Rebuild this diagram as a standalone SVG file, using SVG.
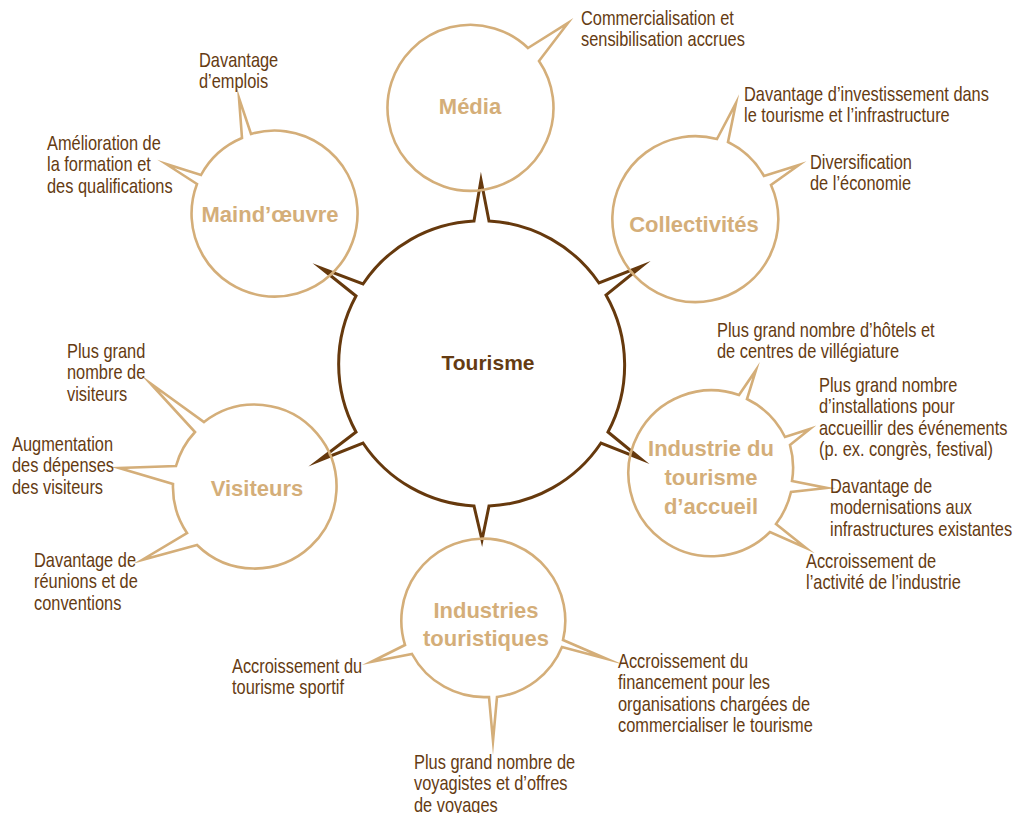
<svg xmlns="http://www.w3.org/2000/svg" width="1013" height="813" viewBox="0 0 1013 813">
<style>
.bub{fill:none;stroke:#d4ae79;stroke-width:2.6;stroke-linejoin:miter;stroke-miterlimit:20}
.core{fill:none;stroke:#66390d;stroke-width:3;stroke-linejoin:miter;stroke-miterlimit:20}
.lbl{font-family:"Liberation Sans",Arial,sans-serif;font-size:20px;fill:#653b12}
.ttl{font-family:"Liberation Sans",Arial,sans-serif;font-size:22px;font-weight:bold;fill:#d4ae79;text-anchor:middle}
.main{font-family:"Liberation Sans",Arial,sans-serif;font-size:21px;font-weight:bold;fill:#653b12;text-anchor:middle}
</style>
<rect width="1013" height="813" fill="#ffffff"/>
<g id="connectors"/>
<g id="tourisme">
<path class="core" d="M474 221 L481 180 L489 221 A142 142 0 0 1 599 283 L642 266 L606 295 A142 142 0 0 1 608 432 L641 459 L601 443 A142 142 0 0 1 489 506 L482 540 L474 506 A142 142 0 0 1 363 443 L318 461 L356 432 A142 142 0 0 1 356 296 L321 268 L363 284 A142 142 0 0 1 474 221 Z"/>
<text class="main" x="488" y="370">Tourisme</text>
</g>
<g id="media">
<path class="bub" d="M528 48 L568 23 L539 61 A83 83 0 1 1 528 48 Z"/>
<text class="ttl" x="470" y="114">Média</text>
<text class="lbl" transform="translate(581,25) scale(0.82,1)"><tspan x="0" y="0">Commercialisation et</tspan><tspan x="0" y="21.5">sensibilisation accrues</tspan></text>
</g>
<g id="maindoeuvre">
<path class="bub" d="M197 184 L166 164 L201 175 A83 83 0 0 1 242 138 L239 98 L251 134 A83 83 0 1 1 197 184 Z"/>
<text class="ttl" x="270" y="222">Maind’œuvre</text>
<text class="lbl" transform="translate(199,67) scale(0.82,1)"><tspan x="0" y="0">Davantage</tspan><tspan x="0" y="21.5">d’emplois</tspan></text>
<text class="lbl" transform="translate(47,150) scale(0.82,1)"><tspan x="0" y="0">Amélioration de</tspan><tspan x="0" y="21.5">la formation et</tspan><tspan x="0" y="43">des qualifications</tspan></text>
</g>
<g id="collectivites">
<path class="bub" d="M717 139 L736 103 L728 142 A83 83 0 0 1 764 176 L799 165 L771 185 A83 83 0 1 1 717 139 Z"/>
<text class="ttl" x="694" y="232">Collectivités</text>
<text class="lbl" transform="translate(744,101) scale(0.82,1)"><tspan x="0" y="0">Davantage d’investissement dans</tspan><tspan x="0" y="21.5">le tourisme et l’infrastructure</tspan></text>
<text class="lbl" transform="translate(810,169) scale(0.82,1)"><tspan x="0" y="0">Diversification</tspan><tspan x="0" y="21.5">de l’économie</tspan></text>
</g>
<g id="industrie-accueil">
<path class="bub" d="M739 395 L756 370 L747 399 A83 83 0 0 1 785 437 L810 429 L790 445 A83 83 0 0 1 792 481 L827 488 L791 492 A83 83 0 0 1 776 524 L806 548 L770 532 A83 83 0 1 1 739 395 Z"/>
<text class="ttl" x="711" y="456">Industrie du</text>
<text class="ttl" x="711" y="485">tourisme</text>
<text class="ttl" x="711" y="514">d’accueil</text>
<text class="lbl" transform="translate(717,337) scale(0.82,1)"><tspan x="0" y="0">Plus grand nombre d’hôtels et</tspan><tspan x="0" y="21.5">de centres de villégiature</tspan></text>
<text class="lbl" transform="translate(819,392) scale(0.82,1)"><tspan x="0" y="0">Plus grand nombre</tspan><tspan x="0" y="21.5">d’installations pour</tspan><tspan x="0" y="43">accueillir des événements</tspan><tspan x="0" y="64.5">(p. ex. congrès, festival)</tspan></text>
<text class="lbl" transform="translate(830,493) scale(0.82,1)"><tspan x="0" y="0">Davantage de</tspan><tspan x="0" y="21.5">modernisations aux</tspan><tspan x="0" y="43">infrastructures existantes</tspan></text>
<text class="lbl" transform="translate(806,568) scale(0.82,1)"><tspan x="0" y="0">Accroissement de</tspan><tspan x="0" y="21.5">l’activité de l’industrie</tspan></text>
</g>
<g id="visiteurs">
<path class="bub" d="M197 545 L142 560 L187 533 A82 82 0 0 1 173 484 L119 468 L176 466 A82 82 0 0 1 195 432 L150 383 L204 422 A82 82 0 1 1 197 545 Z"/>
<text class="ttl" x="257" y="496">Visiteurs</text>
<text class="lbl" transform="translate(67,358) scale(0.82,1)"><tspan x="0" y="0">Plus grand</tspan><tspan x="0" y="21.5">nombre de</tspan><tspan x="0" y="43">visiteurs</tspan></text>
<text class="lbl" transform="translate(12,451) scale(0.82,1)"><tspan x="0" y="0">Augmentation</tspan><tspan x="0" y="21.5">des dépenses</tspan><tspan x="0" y="43">des visiteurs</tspan></text>
<text class="lbl" transform="translate(34,567) scale(0.82,1)"><tspan x="0" y="0">Davantage de</tspan><tspan x="0" y="21.5">réunions et de</tspan><tspan x="0" y="43">conventions</tspan></text>
</g>
<g id="industries-touristiques">
<path class="bub" d="M563 640 L607 659 L562 647 A82 82 0 0 1 497 697 L493 741 L489 697 A82 82 0 0 1 412 654 L371 662 L405 645 A82 82 0 1 1 563 640 Z"/>
<text class="ttl" x="486" y="618">Industries</text>
<text class="ttl" x="486" y="646">touristiques</text>
<text class="lbl" transform="translate(232,673) scale(0.82,1)"><tspan x="0" y="0">Accroissement du</tspan><tspan x="0" y="21.5">tourisme sportif</tspan></text>
<text class="lbl" transform="translate(618,668) scale(0.82,1)"><tspan x="0" y="0">Accroissement du</tspan><tspan x="0" y="21.5">financement pour les</tspan><tspan x="0" y="43">organisations chargées de</tspan><tspan x="0" y="64.5">commercialiser le tourisme</tspan></text>
<text class="lbl" transform="translate(414,769) scale(0.82,1)"><tspan x="0" y="0">Plus grand nombre de</tspan><tspan x="0" y="21.5">voyagistes et d’offres</tspan><tspan x="0" y="43">de voyages</tspan></text>
</g>
</svg>
